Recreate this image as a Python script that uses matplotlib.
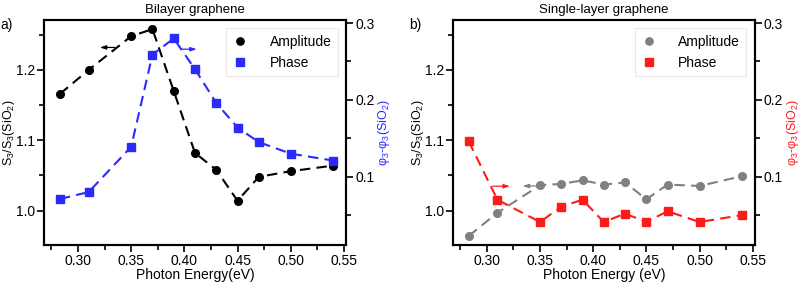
import numpy as np
import matplotlib
matplotlib.use('Agg')
import matplotlib.pyplot as plt
from matplotlib.ticker import MultipleLocator, FormatStrFormatter

energy = [0.283, 0.31, 0.35, 0.37, 0.39, 0.41, 0.43, 0.45, 0.47, 0.50, 0.54]

bi_amp = [1.166, 1.200, 1.248, 1.258, 1.170, 1.082, 1.058, 1.014, 1.048, 1.056, 1.064]
bi_phase = [0.071, 0.080, 0.139, 0.259, 0.280, 0.240, 0.196, 0.164, 0.145, 0.130, 0.121]

sl_amp = [0.964, 0.997, 1.036, 1.038, 1.043, 1.037, 1.040, 1.016, 1.037, 1.035, 1.049]
sl_phase = [0.146, 0.070, 0.041, 0.061, 0.070, 0.041, 0.052, 0.041, 0.055, 0.041, 0.050]

plt.rcParams['font.family'] = ['Liberation Sans', 'DejaVu Sans']
plt.rcParams['font.size'] = 10
plt.rcParams['mathtext.fontset'] = 'custom'
plt.rcParams['mathtext.rm'] = 'Liberation Sans'
plt.rcParams['mathtext.it'] = 'Liberation Sans'

fig = plt.figure(figsize=(8, 2.82), dpi=100)


def panel(rect, amp, phase, amp_col, ph_col, title, tag, xlabel, arrows):
    ax = fig.add_axes(rect)
    ax2 = ax.twinx()
    l1, = ax.plot(energy, amp, 'o--', color=amp_col, ms=5.5, lw=1.5, dashes=(5, 3))
    l2, = ax2.plot(energy, phase, 's--', color=ph_col, ms=5.5, lw=1.5, dashes=(5, 3))
    ax.set_xlim(0.268, 0.552)
    ax.set_ylim(0.951, 1.271)
    ax2.set_ylim(0.011, 0.304)
    ax.xaxis.set_major_locator(MultipleLocator(0.05))
    ax.xaxis.set_minor_locator(MultipleLocator(0.025))
    ax.yaxis.set_major_locator(MultipleLocator(0.1))
    ax.yaxis.set_minor_locator(MultipleLocator(0.05))
    ax2.yaxis.set_major_locator(MultipleLocator(0.1))
    ax2.yaxis.set_minor_locator(MultipleLocator(0.05))
    ax.xaxis.set_major_formatter(FormatStrFormatter('%.2f'))
    ax.yaxis.set_major_formatter(FormatStrFormatter('%.1f'))
    ax2.yaxis.set_major_formatter(FormatStrFormatter('%.1f'))
    for a in (ax, ax2):
        for s in a.spines.values():
            s.set_linewidth(1.5)
        a.tick_params(which='both', direction='out', width=1.2, labelsize=10, pad=1.5)
        a.tick_params(which='major', length=5)
        a.tick_params(which='minor', length=3.5)
    ax.set_xlabel(xlabel, fontsize=10, labelpad=0)
    ax.set_ylabel(r'S$_3$/S$_3$(SiO$_2$)', fontsize=9)
    ax.yaxis.set_label_coords(-0.09, 0.5)
    ax2.set_ylabel(r'φ$_3$-φ$_3$(SiO$_2$)', fontsize=9, color=ph_col, labelpad=1)
    ax.set_title(title, fontsize=9.5, pad=5)
    ax.text(-0.145, 1.01, tag, transform=ax.transAxes, fontsize=10, va='top')
    leg = ax2.legend([l1, l2], ['Amplitude', 'Phase'], loc='upper right', fontsize=10,
                     frameon=True, fancybox=False, edgecolor='#e4e4e4', handlelength=1.2,
                     handletextpad=1.5, borderpad=0.45, labelspacing=0.5,
                     borderaxespad=0.6, markerscale=0.95)
    leg.get_frame().set_linewidth(0.8)
    for lg_line in leg.get_lines():
        lg_line.set_linestyle('none')
    for (x0, x1, y, col, axx) in arrows:
        tgt = ax if axx == 'l' else ax2
        tgt.annotate('', xy=(x1, y), xytext=(x0, y),
                     arrowprops=dict(arrowstyle='-|>,head_length=0.35,head_width=0.12',
                                     color=col, lw=0.9, shrinkA=0, shrinkB=0))
    return ax, ax2


panel([0.055, 0.131, 0.3775, 0.798], bi_amp, bi_phase, 'black', '#2a2aff',
      'Bilayer graphene', 'a)', 'Photon Energy(eV)',
      [(0.3347, 0.3206, 1.232, 'black', 'l'), (0.3974, 0.4115, 0.266, '#2a2aff', 'r')])
panel([0.566, 0.131, 0.3775, 0.798], sl_amp, sl_phase, 'gray', '#ff1a1a',
      'Single-layer graphene', 'b)', 'Photon Energy (eV)',
      [(0.3056, 0.3216, 0.0876, '#ff1a1a', 'r'), (0.3498, 0.3338, 1.035, 'gray', 'l')])

fig.savefig('out.png', dpi=100)
